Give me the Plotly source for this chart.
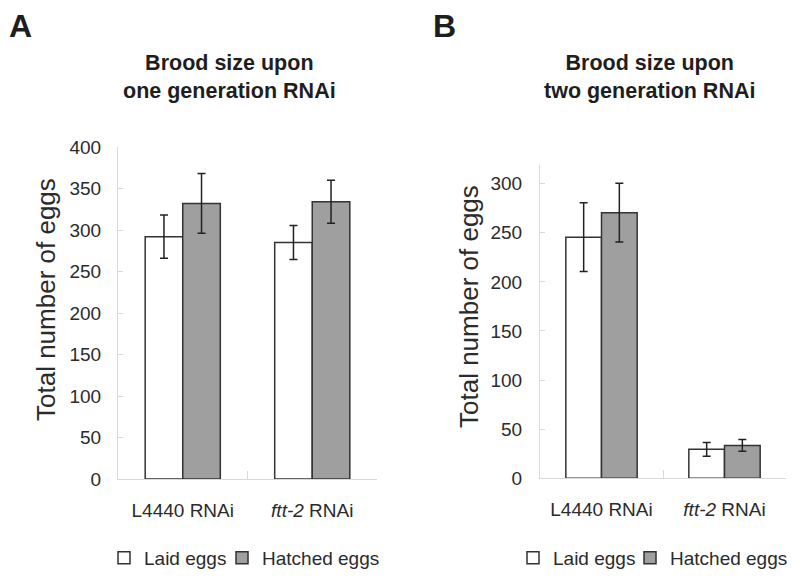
import plotly.graph_objects as go

categories = ["L4440 RNAi", "ftt-2 RNAi"]
category_labels = ["L4440 RNAi", "<i>ftt-2</i> RNAi"]
series_names = ["Laid eggs", "Hatched eggs"]

# Panel A: one generation RNAi
a_laid = [292, 285]
a_laid_err = [26, 20.5]
a_hatched = [332, 334]
a_hatched_err = [36, 26]

# Panel B: two generation RNAi
b_laid = [245.5, 29.5]
b_laid_err = [35, 7]
b_hatched = [270.5, 33.5]
b_hatched_err = [30, 6]

a_yticks = [0, 50, 100, 150, 200, 250, 300, 350, 400]
b_yticks = [0, 50, 100, 150, 200, 250, 300]

FONT = "Liberation Sans, Arial, sans-serif"
TXT = "#2b2b2b"
fills = ["#ffffff", "#9f9f9f"]
W, H = 800, 578

fig = go.Figure()

def add_panel(vals, errs, xa, ya, legends):
    for name, v, e, c, lg in zip(series_names, vals, errs, fills, legends):
        fig.add_trace(go.Bar(
            x=categories, y=v, name=name, xaxis=xa, yaxis=ya,
            marker=dict(color=c, line=dict(color="#333333", width=1.5)),
            error_y=dict(type="data", array=e, visible=True,
                         color="#222222", thickness=1.5, width=4),
            legend=lg, showlegend=True,
        ))

add_panel([a_laid, a_hatched], [a_laid_err, a_hatched_err], "x", "y", ["legend", "legend2"])
add_panel([b_laid, b_hatched], [b_laid_err, b_hatched_err], "x2", "y2", ["legend3", "legend4"])

def px_x(p):
    return p / W

def px_y(p):
    return 1 - p / H

axis_common = dict(
    showgrid=False, zeroline=False, showline=True, linecolor="#d9d9d9",
    linewidth=1, ticks="inside", tickcolor="#d9d9d9",
    tickfont=dict(family=FONT, size=19, color=TXT),
)

legend_common = dict(orientation="h", xanchor="left", yanchor="middle",
                     font=dict(family=FONT, size=19, color=TXT),
                     bgcolor="rgba(0,0,0,0)", itemwidth=30, borderwidth=0)

fig.update_layout(
    width=W, height=H,
    margin=dict(l=0, r=0, t=0, b=0, autoexpand=False),
    paper_bgcolor="white", plot_bgcolor="white",
    barmode="group", bargap=0.42, bargroupgap=0,
    font=dict(family=FONT, color=TXT),
    xaxis=dict(domain=[px_x(118), px_x(377)], anchor="y", range=[-0.5, 1.5],
               tickmode="array", tickvals=categories, ticktext=category_labels,
               tickson="boundaries", ticklen=8, ticklabelstandoff=14, **axis_common),
    yaxis=dict(domain=[px_y(479), px_y(147)], anchor="x", range=[0, 400],
               tickmode="array", tickvals=a_yticks, ticklen=5,
               ticklabelstandoff=12, **axis_common),
    xaxis2=dict(domain=[px_x(540), px_x(786)], anchor="y2", range=[-0.5, 1.5],
                tickmode="array", tickvals=categories, ticktext=category_labels,
                tickson="boundaries", ticklen=8, ticklabelstandoff=14, **axis_common),
    yaxis2=dict(domain=[px_y(478.3), px_y(165)], anchor="x2", range=[0, 319],
                tickmode="array", tickvals=b_yticks, ticklen=5,
                ticklabelstandoff=13, **axis_common),
    legend=dict(x=px_x(104), y=px_y(558), **legend_common),
    legend2=dict(x=px_x(222), y=px_y(558), **legend_common),
    legend3=dict(x=px_x(513), y=px_y(558), **legend_common),
    legend4=dict(x=px_x(630), y=px_y(558), **legend_common),
)

annotations = [
    dict(text="<b>A</b>", x=px_x(20), y=px_y(26), size=32),
    dict(text="<b>B</b>", x=px_x(444), y=px_y(26), size=32),
    dict(text="<b>Brood size upon<br>one generation RNAi</b>", x=px_x(229), y=px_y(77), size=21.5),
    dict(text="<b>Brood size upon<br>two generation RNAi</b>", x=px_x(649), y=px_y(77), size=21.5),
]
for a in annotations:
    fig.add_annotation(text=a["text"], x=a["x"], y=a["y"], xref="paper", yref="paper",
                       xanchor="center", yanchor="middle", showarrow=False,
                       font=dict(family=FONT, size=a["size"], color="#1e1e1e"))

for x, y in [(46, 300), (469, 307)]:
    fig.add_annotation(text="Total number of eggs", x=px_x(x), y=px_y(y),
                       xref="paper", yref="paper", xanchor="center", yanchor="middle",
                       textangle=-90, showarrow=False,
                       font=dict(family=FONT, size=26, color=TXT))

fig.write_html("out.html", post_script="document.body.style.margin='0px';",
               config={"displayModeBar": False})
